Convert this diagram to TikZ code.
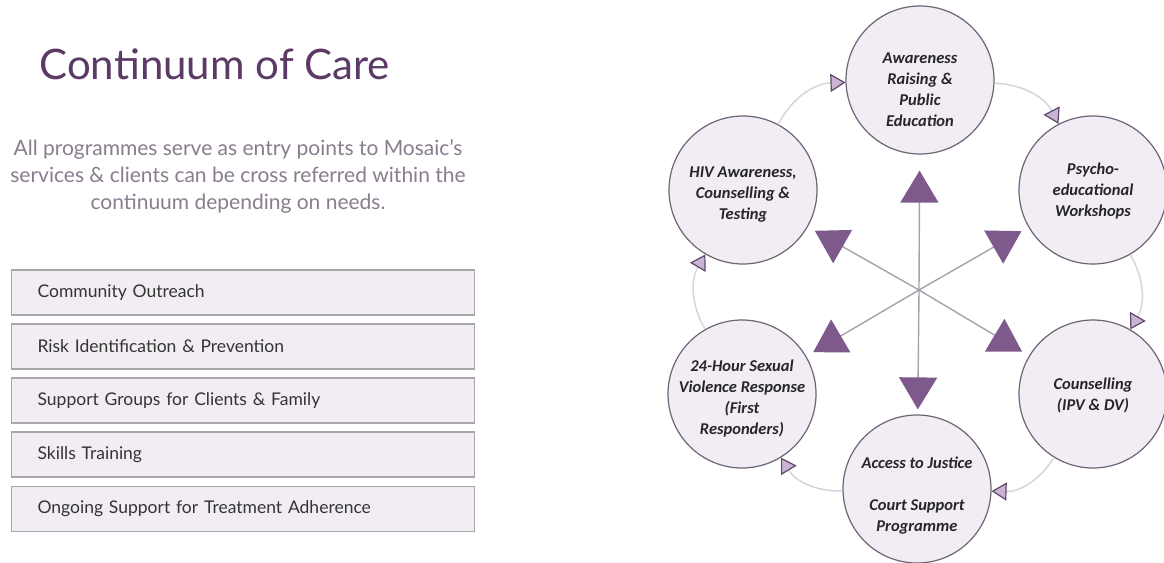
\documentclass[tikz,border=0pt]{standalone}
\usepackage{fontspec}
\setmainfont{Lato}
\newfontfamily\stagefont{Carlito}
\usetikzlibrary{arrows.meta,calc}
\definecolor{primary}{RGB}{91,59,102}
\definecolor{textmuted}{RGB}{138,124,142}
\definecolor{boxbg}{RGB}{241,237,243}
\definecolor{boxline}{RGB}{170,164,172}
\definecolor{boxtext}{RGB}{52,52,52}
\definecolor{stagebg}{RGB}{242,236,245}
\definecolor{stageline}{RGB}{110,100,116}
\definecolor{spokeline}{RGB}{168,160,170}
\definecolor{spoketip}{RGB}{126,90,140}
\definecolor{ringline}{RGB}{216,212,218}
\definecolor{ringtip}{RGB}{201,180,212}
\definecolor{ringtipline}{RGB}{95,72,104}

\tikzset{
  itembox/.style={draw=boxline, fill=boxbg, line width=1.2pt, anchor=west,
    minimum height=45pt, text width=411pt, inner xsep=26pt, align=left,
    text=boxtext, font=\fontsize{17.5}{20}\selectfont},
  stage/.style={circle, draw=stageline, fill=stagebg, line width=1.2pt,
    minimum size=148pt, inner sep=0pt},
  stagetext/.style={align=center, inner sep=0pt, text=black!85,
    font=\stagefont\bfseries\itshape\fontsize{16.5}{21}\selectfont},
  spoke/.style={draw=spokeline, line width=1.4pt,
    -{Triangle[length=32pt,width=38pt,color=spoketip]}},
  ringarrow/.style={draw=ringline, line width=1.5pt, bend left=30,
    -{Triangle[length=15pt,width=18pt,fill=ringtip,color=ringtipline,line width=1.2pt]}}
}

\begin{document}
\begin{tikzpicture}[x=1pt, y=-1pt]
    \useasboundingbox[fill=white] (0,0) rectangle (1164,562);

    % left column: heading and programme list
    \node[anchor=west, text=primary, font=\fontsize{42}{50}\selectfont] (title) at (36, 64) {Continuum of Care};
    \node[align=center, text=textmuted, font=\fontsize{21}{27}\selectfont] (intro) at (238, 176)
        {All programmes serve as entry points to Mosaic’s\\
         services \& clients can be cross referred within the\\
         continuum depending on needs.};

    \node[itembox] (outreach) at (11, 292.5) {Community Outreach};
    \node[itembox] (risk) at (11, 346.5) {Risk Identification \& Prevention};
    \node[itembox] (groups) at (11, 400.5) {Support Groups for Clients \& Family};
    \node[itembox] (skills) at (11, 454.5) {Skills Training};
    \node[itembox] (adherence) at (11, 509) {Ongoing Support for Treatment Adherence};

    % right column: the care cycle
    \coordinate (hub) at (919, 290);
    \node[stage] (awareness) at (920, 80) {};
    \node[stage] (hiv) at (743, 190) {};
    \node[stage] (psycho) at (1093, 190) {};
    \node[stage] (sexviol) at (742, 394) {};
    \node[stage] (counsel) at (1093, 394) {};
    \node[stage] (justice) at (917, 489) {};

    % labels sit a touch below each circle centre
    \node[stagetext] (awareness-txt) at (920, 90) {Awareness\\Raising \&\\Public\\Education};
    \node[stagetext] (hiv-txt) at (743, 195) {HIV Awareness,\\Counselling \&\\Testing};
    \node[stagetext] (psycho-txt) at (1093, 191.5) {Psycho-\\educational\\Workshops};
    \node[stagetext] (sexviol-txt) at (742, 399) {24-Hour Sexual\\Violence Response\\(First\\Responders)};
    \node[stagetext] (counsel-txt) at (1093, 395.5) {Counselling\\(IPV \& DV)};
    \node[stagetext] (justice-txt) at (917, 495.5) {Access to Justice\\ \\Court Support\\Programme};

    % outer ring, clockwise
    \draw[ringarrow] (hiv) to (awareness);
    \draw[ringarrow] (awareness) to (psycho);
    \draw[ringarrow] (psycho) to (counsel);
    \draw[ringarrow] (counsel) to (justice);
    \draw[ringarrow] (justice) to (sexviol);
    \draw[ringarrow] (sexviol) to (hiv);

    % referral spokes from the hub
    \draw[spoke, shorten >=16pt] (hub) -- (awareness);
    \draw[spoke, shorten >=8pt] (hub) -- (hiv);
    \draw[spoke, shorten >=8pt] (hub) -- (psycho);
    \draw[spoke, shorten >=8pt] (hub) -- (sexviol);
    \draw[spoke, shorten >=8pt] (hub) -- (counsel);
    \draw[spoke, shorten >=5pt] (hub) -- (justice);
\end{tikzpicture}
\end{document}
